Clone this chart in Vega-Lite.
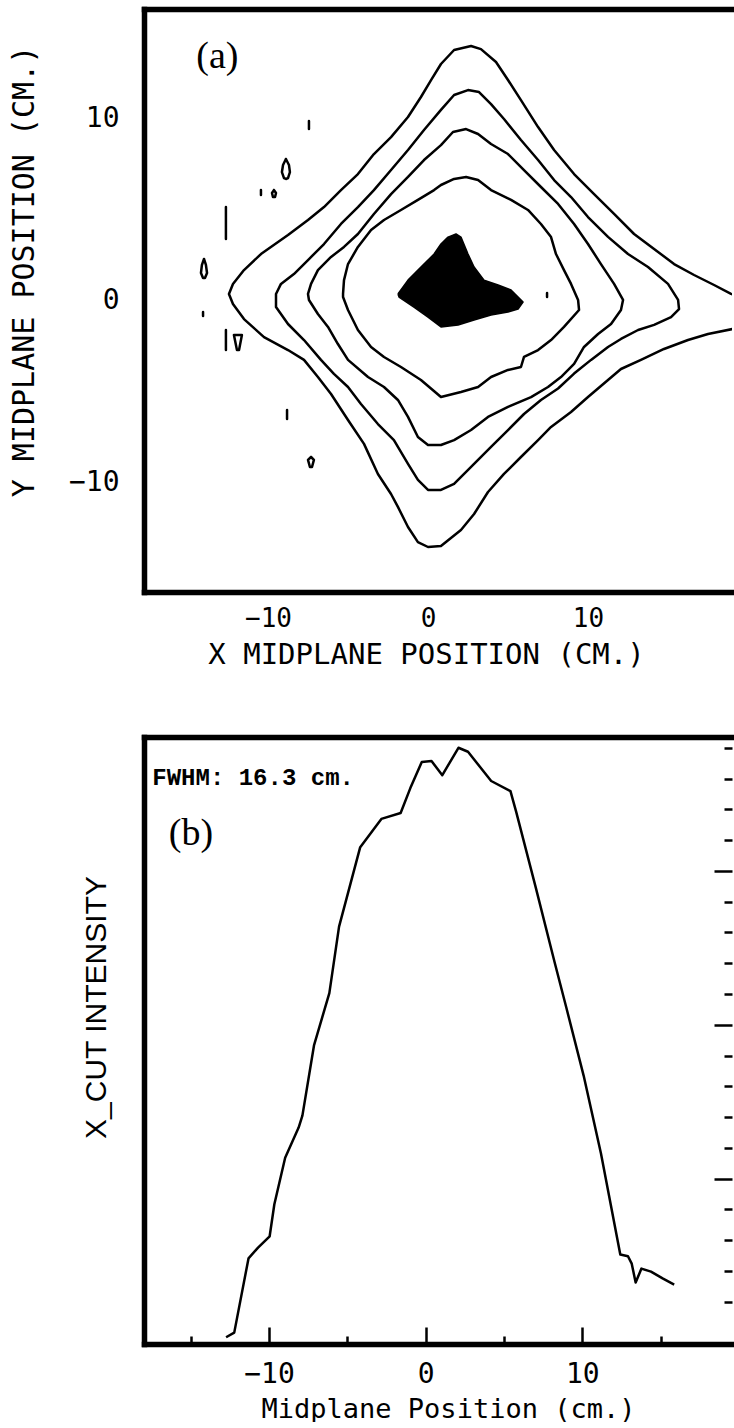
{
  "$schema": "https://vega.github.io/schema/vega-lite/v6.json",
  "background": "white",
  "padding": {"left": 8, "top": 9, "right": 0, "bottom": 0},
  "bounds": "flush",
  "spacing": 145,
  "config": {
    "view": {"stroke": null},
    "axis": {
      "grid": false, "domainColor": "black", "tickColor": "black", "labelColor": "black",
      "titleColor": "black", "domainCap": "square", "labelFont": "DejaVu Sans Mono",
      "titleFont": "DejaVu Sans Mono", "titleFontWeight": "normal", "labelOverlap": false, "labelFlush": false
    }
  },
  "datasets": {
    "contours": [
      {"p":"c1","i":0,"x":19.88,"y":0.08},{"p":"c1","i":1,"x":18.94,"y":0.36},{"p":"c1","i":2,"x":17.88,"y":0.85},{"p":"c1","i":3,"x":16.63,"y":1.4},{"p":"c1","i":4,"x":15.38,"y":2.0},{"p":"c1","i":5,"x":14.13,"y":2.83},{"p":"c1","i":6,"x":12.88,"y":3.65},{"p":"c1","i":7,"x":11.63,"y":4.75},{"p":"c1","i":8,"x":10.38,"y":5.84},{"p":"c1","i":9,"x":9.13,"y":6.94},{"p":"c1","i":10,"x":7.88,"y":8.26},{"p":"c1","i":11,"x":6.88,"y":9.52},{"p":"c1","i":12,"x":5.81,"y":11.0},{"p":"c1","i":13,"x":5.0,"y":12.1},{"p":"c1","i":14,"x":4.25,"y":13.09},{"p":"c1","i":15,"x":3.31,"y":13.8},{"p":"c1","i":16,"x":2.69,"y":13.97},{"p":"c1","i":17,"x":1.63,"y":13.75},{"p":"c1","i":18,"x":0.81,"y":12.98},{"p":"c1","i":19,"x":0.19,"y":12.1},{"p":"c1","i":20,"x":-0.44,"y":11.17},{"p":"c1","i":21,"x":-1.25,"y":10.07},{"p":"c1","i":22,"x":-2.31,"y":8.97},{"p":"c1","i":23,"x":-3.38,"y":8.04},{"p":"c1","i":24,"x":-4.38,"y":6.94},{"p":"c1","i":25,"x":-5.44,"y":6.06},{"p":"c1","i":26,"x":-6.5,"y":5.13},{"p":"c1","i":27,"x":-7.5,"y":4.42},{"p":"c1","i":28,"x":-8.75,"y":3.59},{"p":"c1","i":29,"x":-10.44,"y":2.55},{"p":"c1","i":30,"x":-11.5,"y":1.67},{"p":"c1","i":31,"x":-12.19,"y":0.91},{"p":"c1","i":32,"x":-12.44,"y":0.36},{"p":"c1","i":33,"x":-12.19,"y":-0.19},{"p":"c1","i":34,"x":-11.5,"y":-1.02},{"p":"c1","i":35,"x":-10.25,"y":-2.01},{"p":"c1","i":36,"x":-8.75,"y":-2.72},{"p":"c1","i":37,"x":-7.75,"y":-3.26},{"p":"c1","i":38,"x":-6.88,"y":-4.2},{"p":"c1","i":39,"x":-6.06,"y":-5.13},{"p":"c1","i":40,"x":-5.0,"y":-6.56},{"p":"c1","i":41,"x":-4.0,"y":-7.87},{"p":"c1","i":42,"x":-3.13,"y":-9.52},{"p":"c1","i":43,"x":-2.31,"y":-10.62},{"p":"c1","i":44,"x":-1.88,"y":-11.33},{"p":"c1","i":45,"x":-1.25,"y":-12.43},{"p":"c1","i":46,"x":-0.63,"y":-13.26},{"p":"c1","i":47,"x":0.0,"y":-13.53},{"p":"c1","i":48,"x":0.81,"y":-13.47},{"p":"c1","i":49,"x":2.06,"y":-12.6},{"p":"c1","i":50,"x":2.88,"y":-11.72},{"p":"c1","i":51,"x":3.75,"y":-10.51},{"p":"c1","i":52,"x":4.75,"y":-9.52},{"p":"c1","i":53,"x":5.81,"y":-8.59},{"p":"c1","i":54,"x":6.88,"y":-7.66},{"p":"c1","i":55,"x":7.69,"y":-6.94},{"p":"c1","i":56,"x":8.94,"y":-6.12},{"p":"c1","i":57,"x":10.0,"y":-5.3},{"p":"c1","i":58,"x":11.25,"y":-4.36},{"p":"c1","i":59,"x":12.06,"y":-3.76},{"p":"c1","i":60,"x":13.31,"y":-3.26},{"p":"c1","i":61,"x":14.75,"y":-2.66},{"p":"c1","i":62,"x":16.25,"y":-2.17},{"p":"c1","i":63,"x":17.5,"y":-1.84},{"p":"c1","i":64,"x":19.06,"y":-1.56},{"p":"c1","i":65,"x":19.88,"y":-1.4},

      {"p":"c2","i":0,"x":-9.5,"y":0.36},{"p":"c2","i":1,"x":-9.19,"y":0.91},{"p":"c2","i":2,"x":-8.38,"y":1.45},{"p":"c2","i":3,"x":-7.5,"y":2.22},{"p":"c2","i":4,"x":-6.5,"y":3.1},{"p":"c2","i":5,"x":-5.44,"y":4.2},{"p":"c2","i":6,"x":-4.38,"y":5.13},{"p":"c2","i":7,"x":-3.38,"y":6.06},{"p":"c2","i":8,"x":-2.31,"y":7.16},{"p":"c2","i":9,"x":-1.25,"y":8.26},{"p":"c2","i":10,"x":-0.25,"y":9.36},{"p":"c2","i":11,"x":0.81,"y":10.46},{"p":"c2","i":12,"x":1.63,"y":11.28},{"p":"c2","i":13,"x":2.5,"y":11.55},{"p":"c2","i":14,"x":3.19,"y":11.44},{"p":"c2","i":15,"x":3.94,"y":10.78},{"p":"c2","i":16,"x":4.75,"y":9.96},{"p":"c2","i":17,"x":5.81,"y":8.81},{"p":"c2","i":18,"x":6.88,"y":7.71},{"p":"c2","i":19,"x":7.88,"y":6.61},{"p":"c2","i":20,"x":8.94,"y":5.68},{"p":"c2","i":21,"x":10.0,"y":4.58},{"p":"c2","i":22,"x":11.25,"y":3.49},{"p":"c2","i":23,"x":12.5,"y":2.55},{"p":"c2","i":24,"x":13.75,"y":1.84},{"p":"c2","i":25,"x":15.0,"y":0.91},{"p":"c2","i":26,"x":15.63,"y":0.03},{"p":"c2","i":27,"x":15.69,"y":-0.47},{"p":"c2","i":28,"x":15.19,"y":-0.91},{"p":"c2","i":29,"x":14.13,"y":-1.34},{"p":"c2","i":30,"x":13.13,"y":-1.62},{"p":"c2","i":31,"x":12.06,"y":-2.11},{"p":"c2","i":32,"x":11.25,"y":-2.55},{"p":"c2","i":33,"x":10.19,"y":-3.26},{"p":"c2","i":34,"x":9.13,"y":-4.01},{"p":"c2","i":35,"x":8.13,"y":-4.83},{"p":"c2","i":36,"x":7.06,"y":-5.46},{"p":"c2","i":37,"x":6.0,"y":-6.23},{"p":"c2","i":38,"x":5.0,"y":-7.11},{"p":"c2","i":39,"x":3.94,"y":-8.04},{"p":"c2","i":40,"x":2.88,"y":-8.97},{"p":"c2","i":41,"x":1.63,"y":-10.07},{"p":"c2","i":42,"x":0.81,"y":-10.4},{"p":"c2","i":43,"x":0.0,"y":-10.4},{"p":"c2","i":44,"x":-0.63,"y":-9.85},{"p":"c2","i":45,"x":-1.25,"y":-8.97},{"p":"c2","i":46,"x":-2.13,"y":-7.66},{"p":"c2","i":47,"x":-3.13,"y":-6.78},{"p":"c2","i":48,"x":-4.19,"y":-5.68},{"p":"c2","i":49,"x":-5.0,"y":-4.75},{"p":"c2","i":50,"x":-5.88,"y":-4.03},{"p":"c2","i":51,"x":-6.69,"y":-3.26},{"p":"c2","i":52,"x":-7.75,"y":-2.17},{"p":"c2","i":53,"x":-8.75,"y":-1.29},{"p":"c2","i":54,"x":-9.5,"y":-0.36},{"p":"c2","i":55,"x":-9.5,"y":0.36},

      {"p":"c3","i":0,"x":-7.5,"y":0.36},{"p":"c3","i":1,"x":-7.31,"y":0.91},{"p":"c3","i":2,"x":-6.88,"y":1.67},{"p":"c3","i":3,"x":-6.06,"y":2.39},{"p":"c3","i":4,"x":-5.25,"y":2.94},{"p":"c3","i":5,"x":-4.38,"y":3.65},{"p":"c3","i":6,"x":-3.38,"y":4.75},{"p":"c3","i":7,"x":-2.31,"y":5.84},{"p":"c3","i":8,"x":-1.25,"y":6.78},{"p":"c3","i":9,"x":-0.25,"y":7.71},{"p":"c3","i":10,"x":0.81,"y":8.53},{"p":"c3","i":11,"x":1.56,"y":9.25},{"p":"c3","i":12,"x":2.38,"y":9.41},{"p":"c3","i":13,"x":3.13,"y":9.14},{"p":"c3","i":14,"x":3.94,"y":8.59},{"p":"c3","i":15,"x":5.0,"y":8.04},{"p":"c3","i":16,"x":6.0,"y":7.16},{"p":"c3","i":17,"x":7.06,"y":6.23},{"p":"c3","i":18,"x":8.13,"y":5.3},{"p":"c3","i":19,"x":9.13,"y":4.2},{"p":"c3","i":20,"x":10.0,"y":3.1},{"p":"c3","i":21,"x":10.81,"y":2.0},{"p":"c3","i":22,"x":11.63,"y":0.91},{"p":"c3","i":23,"x":12.19,"y":0.03},{"p":"c3","i":24,"x":12.06,"y":-0.52},{"p":"c3","i":25,"x":11.44,"y":-1.29},{"p":"c3","i":26,"x":10.63,"y":-1.84},{"p":"c3","i":27,"x":9.75,"y":-2.55},{"p":"c3","i":28,"x":9.13,"y":-3.48},{"p":"c3","i":29,"x":8.31,"y":-4.2},{"p":"c3","i":30,"x":7.5,"y":-4.75},{"p":"c3","i":31,"x":6.44,"y":-5.3},{"p":"c3","i":32,"x":5.0,"y":-5.84},{"p":"c3","i":33,"x":3.75,"y":-6.39},{"p":"c3","i":34,"x":2.69,"y":-7.11},{"p":"c3","i":35,"x":1.63,"y":-7.66},{"p":"c3","i":36,"x":0.81,"y":-7.93},{"p":"c3","i":37,"x":0.0,"y":-7.93},{"p":"c3","i":38,"x":-0.63,"y":-7.49},{"p":"c3","i":39,"x":-1.25,"y":-6.39},{"p":"c3","i":40,"x":-1.88,"y":-5.46},{"p":"c3","i":41,"x":-2.75,"y":-4.75},{"p":"c3","i":42,"x":-3.75,"y":-4.2},{"p":"c3","i":43,"x":-5.0,"y":-3.26},{"p":"c3","i":44,"x":-5.63,"y":-2.39},{"p":"c3","i":45,"x":-6.25,"y":-1.45},{"p":"c3","i":46,"x":-6.88,"y":-0.74},{"p":"c3","i":47,"x":-7.44,"y":0.03},{"p":"c3","i":48,"x":-7.5,"y":0.36},

      {"p":"c4","i":0,"x":-5.31,"y":0.36},{"p":"c4","i":1,"x":-5.25,"y":1.12},{"p":"c4","i":2,"x":-5.0,"y":2.0},{"p":"c4","i":3,"x":-4.38,"y":2.94},{"p":"c4","i":4,"x":-3.56,"y":3.87},{"p":"c4","i":5,"x":-2.75,"y":4.42},{"p":"c4","i":6,"x":-1.69,"y":4.97},{"p":"c4","i":7,"x":-0.63,"y":5.52},{"p":"c4","i":8,"x":0.38,"y":6.06},{"p":"c4","i":9,"x":0.81,"y":6.34},{"p":"c4","i":10,"x":1.63,"y":6.67},{"p":"c4","i":11,"x":2.38,"y":6.78},{"p":"c4","i":12,"x":3.13,"y":6.61},{"p":"c4","i":13,"x":3.94,"y":6.06},{"p":"c4","i":14,"x":5.19,"y":5.52},{"p":"c4","i":15,"x":6.25,"y":4.97},{"p":"c4","i":16,"x":7.06,"y":4.2},{"p":"c4","i":17,"x":7.69,"y":3.48},{"p":"c4","i":18,"x":8.0,"y":2.55},{"p":"c4","i":19,"x":8.5,"y":1.67},{"p":"c4","i":20,"x":8.94,"y":0.91},{"p":"c4","i":21,"x":9.38,"y":0.03},{"p":"c4","i":22,"x":9.44,"y":-0.52},{"p":"c4","i":23,"x":8.5,"y":-1.45},{"p":"c4","i":24,"x":7.69,"y":-2.17},{"p":"c4","i":25,"x":6.88,"y":-2.72},{"p":"c4","i":26,"x":6.0,"y":-3.1},{"p":"c4","i":27,"x":5.81,"y":-3.65},{"p":"c4","i":28,"x":5.0,"y":-3.81},{"p":"c4","i":29,"x":3.94,"y":-4.2},{"p":"c4","i":30,"x":3.13,"y":-4.75},{"p":"c4","i":31,"x":2.06,"y":-5.02},{"p":"c4","i":32,"x":0.81,"y":-5.3},{"p":"c4","i":33,"x":-0.44,"y":-4.36},{"p":"c4","i":34,"x":-1.69,"y":-3.65},{"p":"c4","i":35,"x":-2.75,"y":-3.1},{"p":"c4","i":36,"x":-3.56,"y":-2.55},{"p":"c4","i":37,"x":-4.38,"y":-1.62},{"p":"c4","i":38,"x":-5.0,"y":-0.52},{"p":"c4","i":39,"x":-5.31,"y":0.19},{"p":"c4","i":40,"x":-5.31,"y":0.36},

      {"p":"s1","i":0,"x":-7.44,"y":9.85},{"p":"s1","i":1,"x":-7.44,"y":9.41},
      {"p":"s2","i":0,"x":-8.88,"y":7.77},{"p":"s2","i":1,"x":-8.69,"y":7.44},{"p":"s2","i":2,"x":-8.63,"y":7.05},{"p":"s2","i":3,"x":-8.75,"y":6.72},{"p":"s2","i":4,"x":-8.88,"y":6.67},{"p":"s2","i":5,"x":-9.0,"y":6.72},{"p":"s2","i":6,"x":-9.13,"y":7.05},{"p":"s2","i":7,"x":-9.06,"y":7.44},{"p":"s2","i":8,"x":-8.88,"y":7.77},
      {"p":"s3","i":0,"x":-10.44,"y":6.06},{"p":"s3","i":1,"x":-10.44,"y":5.79},
      {"p":"s4","i":0,"x":-9.63,"y":6.06},{"p":"s4","i":1,"x":-9.5,"y":5.9},{"p":"s4","i":2,"x":-9.56,"y":5.68},{"p":"s4","i":3,"x":-9.69,"y":5.68},{"p":"s4","i":4,"x":-9.75,"y":5.9},{"p":"s4","i":5,"x":-9.63,"y":6.06},
      {"p":"s5","i":0,"x":-12.63,"y":5.13},{"p":"s5","i":1,"x":-12.63,"y":3.38},
      {"p":"s6","i":0,"x":-14.0,"y":2.28},{"p":"s6","i":1,"x":-13.88,"y":1.95},{"p":"s6","i":2,"x":-13.81,"y":1.51},{"p":"s6","i":3,"x":-13.94,"y":1.23},{"p":"s6","i":4,"x":-14.06,"y":1.23},{"p":"s6","i":5,"x":-14.19,"y":1.51},{"p":"s6","i":6,"x":-14.13,"y":1.95},{"p":"s6","i":7,"x":-14.0,"y":2.28},
      {"p":"s7","i":0,"x":-14.06,"y":-0.63},{"p":"s7","i":1,"x":-14.06,"y":-0.85},
      {"p":"s8","i":0,"x":-12.63,"y":-1.62},{"p":"s8","i":1,"x":-12.63,"y":-2.72},
      {"p":"s9","i":0,"x":-12.13,"y":-1.89},{"p":"s9","i":1,"x":-11.63,"y":-1.89},{"p":"s9","i":2,"x":-11.81,"y":-2.72},{"p":"s9","i":3,"x":-11.94,"y":-2.72},{"p":"s9","i":4,"x":-12.13,"y":-1.89},
      {"p":"s10","i":0,"x":-8.81,"y":-6.01},{"p":"s10","i":1,"x":-8.81,"y":-6.5},
      {"p":"s11","i":0,"x":-7.31,"y":-8.59},{"p":"s11","i":1,"x":-7.13,"y":-8.75},{"p":"s11","i":2,"x":-7.25,"y":-9.14},{"p":"s11","i":3,"x":-7.38,"y":-9.14},{"p":"s11","i":4,"x":-7.5,"y":-8.75},{"p":"s11","i":5,"x":-7.31,"y":-8.59},
      {"p":"s12","i":0,"x":7.44,"y":0.41},{"p":"s12","i":1,"x":7.44,"y":0.19}
    ],
    "core": [
      {"i":0,"x":-1.88,"y":0.36},{"i":1,"x":-1.25,"y":1.12},{"i":2,"x":-0.44,"y":1.84},{"i":3,"x":0.38,"y":2.55},{"i":4,"x":0.81,"y":3.1},{"i":5,"x":1.25,"y":3.48},{"i":6,"x":1.75,"y":3.65},{"i":7,"x":2.06,"y":3.48},{"i":8,"x":2.5,"y":2.55},{"i":9,"x":2.88,"y":1.84},{"i":10,"x":3.5,"y":1.12},{"i":11,"x":4.38,"y":0.85},{"i":12,"x":5.19,"y":0.58},{"i":13,"x":5.94,"y":-0.08},{"i":14,"x":5.63,"y":-0.47},{"i":15,"x":5.0,"y":-0.63},{"i":16,"x":3.94,"y":-0.8},{"i":17,"x":2.88,"y":-1.07},{"i":18,"x":1.88,"y":-1.34},{"i":19,"x":0.81,"y":-1.45},{"i":20,"x":0.0,"y":-0.91},{"i":21,"x":-0.88,"y":-0.36},{"i":22,"x":-1.81,"y":0.19},{"i":23,"x":-1.88,"y":0.36}
    ],
    "cut": [
      {"x":-12.74,"v":-0.15},{"x":-12.22,"v":0.0},{"x":-11.31,"v":2.41},{"x":-10.7,"v":2.76},{"x":-9.96,"v":3.13},{"x":-9.66,"v":4.17},{"x":-8.97,"v":5.68},{"x":-8.11,"v":6.66},{"x":-7.87,"v":7.05},{"x":-7.13,"v":9.33},{"x":-6.15,"v":11.03},{"x":-5.53,"v":13.19},{"x":-4.18,"v":15.77},{"x":-2.83,"v":16.69},{"x":-1.6,"v":16.88},{"x":-0.98,"v":17.69},{"x":-0.25,"v":18.54},{"x":0.37,"v":18.57},{"x":1.06,"v":18.11},{"x":2.09,"v":19.0},{"x":2.7,"v":18.87},{"x":4.18,"v":17.92},{"x":5.41,"v":17.59},{"x":5.78,"v":16.91},{"x":7.01,"v":14.49},{"x":8.24,"v":12.01},{"x":8.97,"v":10.57},{"x":10.08,"v":8.35},{"x":11.19,"v":5.81},{"x":12.42,"v":2.54},{"x":12.91,"v":2.48},{"x":13.15,"v":2.24},{"x":13.4,"v":1.63},{"x":13.77,"v":2.08},{"x":14.38,"v":1.98},{"x":15.12,"v":1.76},{"x":15.86,"v":1.56}
    ]
  },
  "vconcat": [
    {
      "width": 588,
      "height": 583,
      "resolve": {"axis": {"x": "independent", "y": "independent"}},
      "layer": [
        {
          "data": {"name": "contours"},
          "mark": {"type": "line", "stroke": "black", "strokeWidth": 2.5, "strokeCap": "round", "strokeJoin": "round", "clip": true},
          "encoding": {
            "x": {
              "field": "x", "type": "quantitative",
              "scale": {"domain": [-17.75, 19.0], "nice": false, "zero": false},
              "axis": {
                "orient": "bottom", "values": [-10, 0, 10], "ticks": false, "domainWidth": 5.5,
                "labelFontSize": 26, "labelPadding": 26, "labelBaseline": "middle",
                "title": "X MIDPLANE POSITION (CM.)", "titleFontSize": 29,
                "titleX": 282, "titleY": 62, "titleBaseline": "middle"
              }
            },
            "y": {
              "field": "y", "type": "quantitative",
              "scale": {"domain": [-16, 16], "nice": false, "zero": false},
              "axis": {
                "orient": "left", "values": [-10, 0, 10], "ticks": false, "domainWidth": 5.5,
                "labelFontSize": 28, "labelPadding": 25,
                "title": "Y MIDPLANE POSITION (CM.)", "titleFontSize": 30,
                "titleX": -120, "titleY": 262, "titleBaseline": "middle"
              }
            },
            "detail": {"field": "p"},
            "order": {"field": "i", "type": "quantitative"}
          }
        },
        {
          "data": {"name": "core"},
          "mark": {"type": "line", "fill": "black", "stroke": "black", "strokeWidth": 1.5, "strokeJoin": "round"},
          "encoding": {
            "x": {"field": "x", "type": "quantitative", "axis": null},
            "y": {"field": "y", "type": "quantitative", "axis": null},
            "order": {"field": "i", "type": "quantitative"}
          }
        },
        {
          "data": {"name": "core"},
          "mark": {"type": "line", "strokeOpacity": 0},
          "encoding": {
            "x": {"field": "x", "type": "quantitative",
              "axis": {"orient": "top", "domainWidth": 5.5, "labels": false, "ticks": false, "title": null}},
            "y": {"field": "y", "type": "quantitative", "axis": null},
            "order": {"field": "i", "type": "quantitative"}
          }
        },
        {
          "data": {"values": [{"label": "(a)"}]},
          "mark": {"type": "text", "font": "Liberation Serif", "fontSize": 38, "align": "center", "baseline": "middle", "color": "black"},
          "encoding": {
            "x": {"datum": -13.16, "type": "quantitative", "axis": null},
            "y": {"datum": 13.36, "type": "quantitative", "axis": null},
            "text": {"field": "label"}
          }
        }
      ]
    },
    {
      "width": 588,
      "height": 607,
      "resolve": {"axis": {"x": "independent", "y": "independent"}},
      "layer": [
        {
          "data": {"name": "cut"},
          "mark": {"type": "line", "stroke": "black", "strokeWidth": 2.5, "strokeJoin": "round"},
          "encoding": {
            "x": {
              "field": "x", "type": "quantitative",
              "scale": {"domain": [-17.98, 19.55], "nice": false, "zero": false},
              "axis": {
                "orient": "bottom", "values": [-10, 0, 10], "ticks": false, "domainWidth": 5.5,
                "labelFontSize": 28, "labelPadding": 30, "labelBaseline": "middle",
                "title": "Midplane Position (cm.)", "titleFontSize": 27,
                "titleX": 304, "titleY": 65, "titleBaseline": "middle"
              }
            },
            "y": {
              "field": "v", "type": "quantitative",
              "scale": {"domain": [-0.37, 19.35], "nice": false, "zero": false},
              "axis": {
                "orient": "left", "labels": false, "ticks": false, "domainWidth": 5.5,
                "title": "X_CUT INTENSITY", "titleFont": "Liberation Sans", "titleFontSize": 30,
                "titleX": -48, "titleY": 270, "titleBaseline": "middle"
              }
            }
          }
        },
        {
          "data": {"name": "cut"},
          "mark": {"type": "line", "strokeOpacity": 0},
          "encoding": {
            "x": {"field": "x", "type": "quantitative",
              "axis": {"orient": "top", "domainWidth": 5.5, "labels": false, "ticks": false, "title": null}},
            "y": {"field": "v", "type": "quantitative",
              "axis": {"orient": "right", "values": [1, 2, 3, 4, 6, 7, 8, 9, 11, 12, 13, 14, 16, 17, 18, 19],
                "domain": false, "labels": false, "ticks": true, "tickSize": -8, "tickWidth": 2.5, "title": null}}
          }
        },
        {
          "data": {"name": "cut"},
          "mark": {"type": "line", "strokeOpacity": 0},
          "encoding": {
            "x": {"field": "x", "type": "quantitative",
              "axis": {"orient": "bottom", "values": [-10, 0, 10], "domain": false, "labels": false,
                "ticks": true, "tickSize": -17, "tickWidth": 2.5, "title": null}},
            "y": {"field": "v", "type": "quantitative",
              "axis": {"orient": "right", "values": [5, 10, 15], "domain": false, "labels": false,
                "ticks": true, "tickSize": -18, "tickWidth": 2.5, "title": null}}
          }
        },
        {
          "data": {"name": "cut"},
          "mark": {"type": "line", "strokeOpacity": 0},
          "encoding": {
            "x": {"field": "x", "type": "quantitative",
              "axis": {"orient": "bottom", "values": [-15, -5, 5, 15], "domain": false, "labels": false,
                "ticks": true, "tickSize": -8, "tickWidth": 2.5, "title": null}},
            "y": {"field": "v", "type": "quantitative", "axis": null}
          }
        },
        {
          "data": {"values": [{"label": "FWHM: 16.3 cm."}]},
          "mark": {"type": "text", "font": "Liberation Mono", "fontWeight": "bold", "fontSize": 24, "align": "left", "baseline": "middle", "color": "black"},
          "encoding": {
            "x": {"datum": -17.45, "type": "quantitative", "axis": null},
            "y": {"datum": 18.02, "type": "quantitative", "axis": null},
            "text": {"field": "label"}
          }
        },
        {
          "data": {"values": [{"label": "(b)"}]},
          "mark": {"type": "text", "font": "Liberation Serif", "fontSize": 38, "align": "center", "baseline": "middle", "color": "black"},
          "encoding": {
            "x": {"datum": -14.98, "type": "quantitative", "axis": null},
            "y": {"datum": 16.19, "type": "quantitative", "axis": null},
            "text": {"field": "label"}
          }
        }
      ]
    }
  ]
}
